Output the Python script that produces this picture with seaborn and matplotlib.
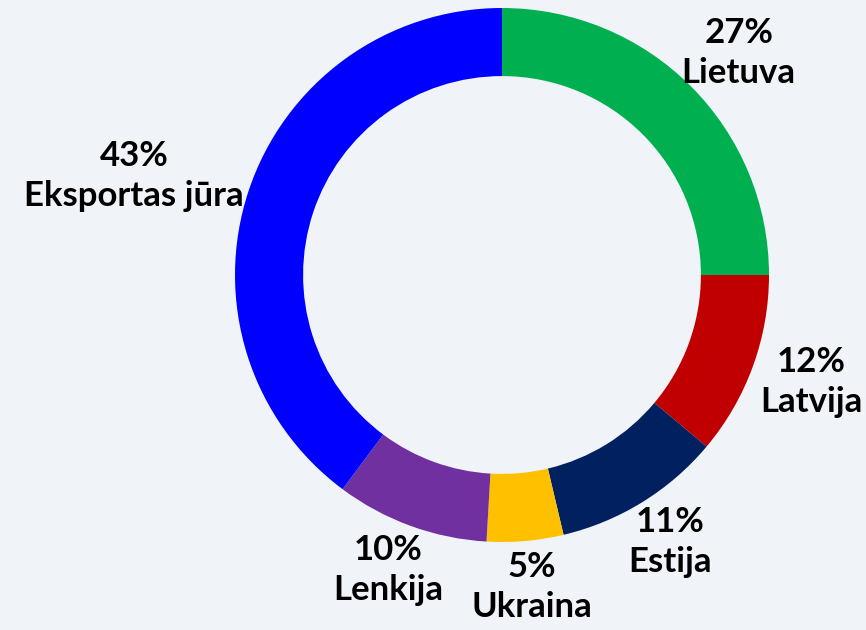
import numpy as np
import matplotlib.pyplot as plt
import seaborn as sns

# Data
regions = ["Lietuva", "Latvija", "Estija", "Ukraina", "Lenkija", "Eksportas jūra"]
shares = [27, 12, 11, 5, 10, 43]
colors = ["#00B050", "#C00000", "#002060", "#FFC000", "#7030A0", "#0000FF"]

bg = "#F0F3F7"
sns.set_theme(style="white")
plt.rcParams["font.family"] = ["Lato", "DejaVu Sans"]

fig = plt.figure(figsize=(8.66, 6.30), dpi=100, facecolor=bg)
ax = fig.add_axes([0, 0, 1, 1])
ax.set_facecolor(bg)

wedges, _ = ax.pie(
    shares,
    colors=colors,
    startangle=90,
    counterclock=False,
    radius=1,
    wedgeprops=dict(width=0.255, linewidth=0),
)

# pie centre at (502, 275) px, radius 267 px
r_px = 267
ax.set_xlim(-502 / r_px, (866 - 502) / r_px)
ax.set_ylim(-(630 - 275) / r_px, 275 / r_px)
ax.set_aspect("equal")
ax.axis("off")

# labels outside the ring, pushed out by half their size
texts = []
for w, val, name in zip(wedges, shares, regions):
    ang = np.deg2rad((w.theta1 + w.theta2) / 2)
    x, y = 1.04 * np.cos(ang), 1.04 * np.sin(ang)
    t = ax.text(x, y, f"{val}%\n{name}", ha="center", va="center",
                multialignment="center", fontsize=25, fontweight="bold",
                color="black", linespacing=1.3)
    texts.append((t, ang))

fig.canvas.draw()
renderer = fig.canvas.get_renderer()
for t, ang in texts:
    bb = t.get_window_extent(renderer)
    dx = bb.width / 2 * np.cos(ang) / r_px
    dy = bb.height / 2 * np.sin(ang) / r_px
    x, y = t.get_position()
    t.set_position((x + dx, y + dy))

fig.savefig("out.png", dpi=100, facecolor=bg)
